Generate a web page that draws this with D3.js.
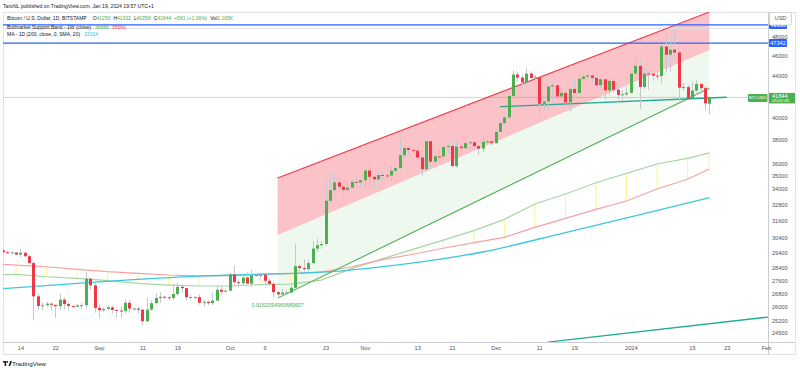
<!DOCTYPE html>
<html><head><meta charset="utf-8">
<script src="https://cdn.jsdelivr.net/npm/d3@7"></script>
<style>
body{margin:0;background:#fff;}
svg{display:block;font-family:"Liberation Sans",Arial,sans-serif;}
</style>
</head><body>
<svg id="c" width="800" height="370"></svg>
<script>
// ---------------- DATA ----------------
const firstDay = "2023-08-10"; // daily candles, consecutive days
const openP = [
29560,29430,29400,29420,29280,29400,29170,28720,26630,26050,26100,26190,26120,26040,26430,26160,26050,26010,26090,26100,27720,27300,
25940,25800,25870,25970,25820,25780,25750,26240,25900,25900,25830,25160,25840,26220,26530,26600,26570,26530,26770,27210,27130,26570,26580,26580,26250,26300,26220,26370,27030,26910,
26970,27990,27500,27430,27790,27410,27930,27950,27970,27590,27390,26880,26750,26860,26860,27150,28520,28400,28330,28720,29680,29910,29990,33090,33900,34500,34160,33910,34090,34540,34490,
34670,35440,34940,34730,35080,35050,35040,35420,35640,36690,37310,37140,37070,36500,35550,37880,36160,36600,36590,37390,37480,35800,37420,37290,37720,37790,37460,37250,37830,37860,
37720,38690,39470,39980,41980,44080,43770,43290,44170,43730,43790,41240,41450,42890,43020,41940,42280,41370,42660,42270,43650,43870,43990,43740,43020,43610,42520,43440,42580,42070,42140,
42280,44180,44950,42850,44180,44160,43970,43930,46970,46120,46630,46340,42780,42840,41730,42500,43150,42740,41250];
const highP = [
29700,29540,29470,29450,29670,29450,29220,28780,26800,26260,26290,26250,26130,26800,26560,26300,26100,26170,26240,28140,27760,27570,
26130,25970,26110,26090,25870,26030,26440,26430,25940,26000,25880,26550,26380,26820,26890,26680,26620,27410,27490,27380,27160,26740,26640,26740,26430,26390,26840,27300,27240,27090,
28060,28580,27680,27840,28120,28290,28000,28100,27990,27740,27480,26940,27100,26980,27290,30000,28610,28980,28930,30200,30370,30200,34770,35200,35130,34820,34230,34470,34730,34870,34720,
35560,35970,34940,35270,35380,35270,35880,35980,37950,37520,37410,37230,37420,36750,37980,37930,36850,36860,37530,37760,37860,37880,37650,38430,37900,37830,37580,38400,38400,38170,
38990,39700,40200,42410,44490,44290,44040,44700,44360,44040,43800,42100,43000,43400,43090,42700,42430,42760,43500,44290,44220,44390,44000,43950,43800,43610,43690,43800,43130,42600,42890,
44200,45900,45500,44760,44350,44220,44480,47200,47900,47690,48970,46500,43250,43070,43350,43570,43200,42900,41932];
const lowP = [
29330,29350,29360,29250,29100,29100,28700,25200,25800,25800,26000,25800,25350,25800,25850,25770,25970,25980,25860,25900,27020,25660,
25330,25710,25800,25600,25370,25380,25620,25650,25810,25600,24900,25130,25760,26130,26220,26480,26400,26390,26680,26850,26370,26500,26500,26130,26000,26100,26120,26340,26720,26890,
26950,27330,27170,27260,27380,27190,27860,27700,27300,27290,26560,26560,26690,26810,26820,27130,28090,28170,28170,28620,29480,29660,29880,32880,33730,33740,33400,33880,34050,34060,34070,
34100,34340,34110,34580,34570,34760,34560,35130,35560,36350,36730,36760,36370,34970,35370,35560,35920,36220,36390,36750,35720,35630,36900,37270,37620,37150,36700,36900,37600,37510,
37630,38650,39300,39980,41420,43400,42820,43080,43590,43570,40200,40670,40600,41420,41680,41690,41260,40530,41800,42220,43330,43430,43300,42770,42730,41640,42110,42330,41300,41540,41970,
42200,44180,40750,42640,42580,43420,43580,43200,44300,44350,45600,41500,42450,41720,41730,42050,42200,40650,40258];
const closeP = [
29430,29400,29420,29280,29400,29170,28720,26630,26050,26100,26190,26120,26040,26430,26160,26050,26010,26090,26100,27720,27300,25940,
25800,25870,25970,25820,25780,25750,26240,25900,25900,25830,25160,25840,26220,26530,26600,26570,26530,26770,27210,27130,26570,26580,26580,26250,26300,26220,26370,27030,26910,26970,
27990,27500,27430,27790,27410,27930,27950,27970,27590,27390,26880,26750,26860,26860,27150,28520,28400,28330,28720,29680,29910,29990,33090,33900,34500,34160,33910,34090,34540,34490,34670,
35440,34940,34730,35080,35050,35040,35420,35640,36690,37310,37140,37070,36500,35550,37880,36160,36600,36590,37390,37480,35800,37420,37290,37720,37790,37460,37250,37830,37860,37720,
38690,39470,39980,41980,44080,43770,43290,44170,43730,43790,41240,41450,42890,43020,41940,42280,41370,42660,42270,43650,43870,43990,43740,43020,43610,42520,43440,42580,42070,42140,42280,
44180,44950,42850,44180,44160,43970,43930,46970,46120,46630,46340,42780,42840,41730,42500,43150,42740,41280,41844];

// Bull market support band (weekly)
const bandDates = ["2023-08-06","2023-08-13","2023-08-20","2023-08-27","2023-09-03","2023-09-10","2023-09-17","2023-09-24","2023-10-01","2023-10-08","2023-10-15","2023-10-22","2023-10-29","2023-11-05","2023-11-12","2023-11-19","2023-11-26","2023-12-03","2023-12-10","2023-12-17","2023-12-24","2023-12-31","2024-01-07","2024-01-14","2024-01-19"];
const sma20w = [27960,27990,27840,27740,27590,27420,27320,27260,27260,27350,27380,27630,28360,28990,29630,30260,30920,31720,32840,33600,34470,35210,35970,36430,36886];
const ema21w = [28680,28590,28480,28310,28160,28060,27950,27900,27910,28010,28040,28140,28480,28940,29300,29700,30090,30450,31150,31790,32450,33070,33980,34740,35560];

// MA 200 (daily), sampled
const maDates = ["2023-08-08","2023-09-01","2023-09-24","2023-10-15","2023-10-25","2023-11-10","2023-11-28","2023-12-17","2024-01-01","2024-01-19"];
const ma200 = [27060,27520,27880,28050,28180,28650,29450,30780,31900,33324];

// Drawings
const channelDates = ["2023-10-12","2024-01-19"];
const channelTop = [34840,50800];
const channelMid = [30610,46600];
const channelBot = [26520,42720];
const supportDates = ["2023-12-02","2024-01-23"];
const supportPrices = [40970,41860];
const rayDates = ["2023-12-13","2024-02-02"];
const rayPrices = [24000,25420];
const hLevels = [49330,47342];
const lastPrice = 41844;
const fibText = "0.9162054960689607";

// Legend values
const ohlcKeys = ["O","H","L","C"];
const ohlcVals = ["41250","41932","40258","41844"];
const bandVals = ["36886","35560"];

// Axes
const priceTicks = [48000,46000,44000,42000,40000,38000,36000,35000,34000,32800,31600,30400,29400,28400,27600,26800,26000,25200,24500];
const timeTickDates = ["2023-08-14","2023-08-22","2023-09-01","2023-09-11","2023-09-19","2023-10-01","2023-10-09","2023-10-23","2023-11-01","2023-11-13","2023-11-21","2023-12-01","2023-12-11","2023-12-19","2024-01-01","2024-01-15","2024-01-23","2024-02-01"];
const timeTickLabels = ["14","22","Sep","11","19","Oct","9","23","Nov","13","21","Dec","11","19","2024","15","23","Feb"];

// ---------------- DRAW ----------------
const P = d3.utcParse("%Y-%m-%d");
const svg = d3.select("#c");
const x = d3.scaleUtc().domain([P("2023-08-14"), P("2024-02-01")]).range([20.4, 766]);
const y = d3.scaleLog().domain([48000, 24500]).range([37, 333]);
const plotL = 3, plotR = 768, plotT = 12, plotB = 342;

const GREEN = "#4caf50", RED = "#f23645", BLUE = "#2962ff";

svg.append("rect").attr("width",800).attr("height",370).attr("fill","#fff");
svg.append("defs").append("clipPath").attr("id","plot")
  .append("rect").attr("x",plotL).attr("y",plotT).attr("width",plotR-plotL).attr("height",plotB-plotT);

// border & frame
svg.append("rect").attr("x",plotL+0.5).attr("y",plotT+0.5).attr("width",795-plotL).attr("height",354-plotT)
  .attr("fill","none").attr("stroke","#e0e3eb");
svg.append("line").attr("x1",plotL).attr("x2",795).attr("y1",plotB+0.5).attr("y2",plotB+0.5).attr("stroke","#c9ccd3");
svg.append("line").attr("x1",plotR+0.5).attr("x2",plotR+0.5).attr("y1",plotT).attr("y2",354).attr("stroke","#c9ccd3");

const g = svg.append("g").attr("clip-path","url(#plot)");

const cd = channelDates.map(P);
const ptsTop = cd.map((d,i)=>[x(d), y(channelTop[i])]);
const ptsMid = cd.map((d,i)=>[x(d), y(channelMid[i])]);
const ptsBot = cd.map((d,i)=>[x(d), y(channelBot[i])]);
// fills
g.append("path").attr("d", d3.line()(ptsTop.concat(ptsMid.slice().reverse()))+"Z")
  .attr("fill","#f23645").attr("fill-opacity",0.3);
g.append("path").attr("d", d3.line()(ptsMid.concat(ptsBot.slice().reverse()))+"Z")
  .attr("fill","#4caf50").attr("fill-opacity",0.09);

// faint line near top
g.append("line").attr("x1",plotL).attr("x2",plotR).attr("y1",28.5).attr("y2",28.5).attr("stroke","#dfe1e6");

// current price line
g.append("line").attr("x1",plotL).attr("x2",plotR).attr("y1",y(lastPrice)).attr("y2",y(lastPrice))
  .attr("stroke",GREEN).attr("stroke-opacity",0.35).attr("stroke-width",1);

// band
const bd = bandDates.map(P);
g.selectAll("line.band").data(bd).join("line").attr("class","band")
  .attr("x1",d=>x(d)).attr("x2",d=>x(d))
  .attr("y1",(d,i)=>y(sma20w[i])).attr("y2",(d,i)=>y(ema21w[i]))
  .attr("stroke","#fff59d").attr("stroke-width",1.2);
g.append("path").datum(bd).attr("fill","none").attr("stroke","#a5d6a7").attr("stroke-width",1.2)
  .attr("d", d3.line().x(d=>x(d)).y((d,i)=>y(sma20w[i])));
g.append("path").datum(bd).attr("fill","none").attr("stroke","#f7a2a2").attr("stroke-width",1.2)
  .attr("d", d3.line().x(d=>x(d)).y((d,i)=>y(ema21w[i])));

// MA200
const md = maDates.map(P);
g.append("path").datum(md).attr("fill","none").attr("stroke","#3cc8dc").attr("stroke-width",1.3)
  .attr("d", d3.line().curve(d3.curveMonotoneX).x(d=>x(d)).y((d,i)=>y(ma200[i])));

// channel lines
g.append("path").attr("d", d3.line()(ptsTop)).attr("stroke",RED).attr("stroke-width",1.1).attr("fill","none");
g.append("path").attr("d", d3.line()(ptsBot)).attr("stroke",GREEN).attr("stroke-width",1.1).attr("fill","none");

// support line and ray
const sd = supportDates.map(P);
g.append("line").attr("x1",x(sd[0])).attr("y1",y(supportPrices[0])).attr("x2",x(sd[1])).attr("y2",y(supportPrices[1]))
  .attr("stroke","#22ab94").attr("stroke-width",1.3);
const rd = rayDates.map(P);
g.append("line").attr("x1",x(rd[0])).attr("y1",y(rayPrices[0])).attr("x2",x(rd[1])).attr("y2",y(rayPrices[1]))
  .attr("stroke","#22ab94").attr("stroke-width",1.3);

// horizontal levels
g.selectAll("line.lvl").data(hLevels).join("line").attr("class","lvl")
  .attr("x1",plotL).attr("x2",plotR).attr("y1",d=>y(d)).attr("y2",d=>y(d))
  .attr("stroke",BLUE).attr("stroke-width",1.3);

// candles
const candles = openP.map((o,i)=>({d: d3.utcDay.offset(P(firstDay), i), o, h: highP[i], l: lowP[i], c: closeP[i]}));
const bw = 3;
const cg = g.append("g");
cg.selectAll("line.wick").data(candles).join("line").attr("class","wick")
  .attr("x1",d=>Math.round(x(d.d))+0.5).attr("x2",d=>Math.round(x(d.d))+0.5)
  .attr("y1",d=>y(d.h)).attr("y2",d=>y(d.l))
  .attr("stroke","#c5c8d0").attr("stroke-width",1);
cg.selectAll("rect.body").data(candles).join("rect").attr("class","body")
  .attr("x",d=>Math.round(x(d.d))-1).attr("width",bw)
  .attr("y",d=>Math.min(y(d.o),y(d.c)))
  .attr("height",d=>Math.max(1, Math.abs(y(d.o)-y(d.c))))
  .attr("fill",d=>d.c>=d.o?GREEN:RED);

// fib text
g.append("text").attr("x",x(cd[0])).attr("y",y(26100)).attr("text-anchor","middle").attr("dominant-baseline","middle")
  .attr("font-size",5.4).attr("fill",GREEN).text(fibText);

// BTCUSD label
svg.append("rect").attr("x",748).attr("y",94).attr("width",19.5).attr("height",8).attr("fill",GREEN).attr("rx",1);
svg.append("text").attr("x",757.7).attr("y",98.3).attr("text-anchor","middle").attr("dominant-baseline","middle")
  .attr("font-size",4.4).attr("fill","#fff").text("BTCUSD");

// price axis
const ya = svg.append("g").attr("transform",`translate(${plotR},0)`)
  .call(d3.axisRight(y).tickValues(priceTicks).tickFormat(d3.format("d")).tickSize(0).tickPadding(4));
ya.select(".domain").remove();
ya.selectAll("text").attr("font-size",5.6).attr("fill","#50535e").attr("font-family","Liberation Sans, Arial, sans-serif");

// time axis
const xa = svg.append("g").attr("transform",`translate(0,${plotB})`)
  .call(d3.axisBottom(x).tickValues(timeTickDates.map(P)).tickFormat((d,i)=>timeTickLabels[i]).tickSize(0).tickPadding(4));
xa.select(".domain").remove();
xa.selectAll("text").attr("font-size",5.6).attr("fill","#50535e").attr("font-family","Liberation Sans, Arial, sans-serif");

// axis labels for levels
function axisLabel(val, fill, txt, h){
  const yy = y(val);
  svg.append("rect").attr("x",769).attr("y",yy-h/2).attr("width",18).attr("height",h).attr("fill",fill).attr("rx",1);
  svg.append("text").attr("x",778).attr("y",yy+0.3).attr("text-anchor","middle").attr("dominant-baseline","middle")
    .attr("font-size",5.6).attr("fill","#fff").text(txt);
}
axisLabel(hLevels[0], BLUE, String(hLevels[0]), 8);
axisLabel(hLevels[1], BLUE, String(hLevels[1]), 8);
// USD box
svg.append("rect").attr("x",769.5).attr("y",12.5).attr("width",22).attr("height",12.5).attr("fill","#fff").attr("stroke","#d1d4dc").attr("rx",1.5);
svg.append("text").attr("x",780.5).attr("y",19).attr("text-anchor","middle").attr("dominant-baseline","middle")
  .attr("font-size",5.6).attr("fill","#50535e").text("USD");
// last price label
const ly = y(lastPrice);
svg.append("rect").attr("x",769).attr("y",ly-4.5).attr("width",26).attr("height",10.5).attr("fill",GREEN);
svg.append("text").attr("x",772).attr("y",ly-0.8).attr("dominant-baseline","middle").attr("font-size",5.6).attr("fill","#fff").text(String(lastPrice));
svg.append("text").attr("x",772).attr("y",ly+3.6).attr("dominant-baseline","middle").attr("font-size",4.4).attr("fill","#fff").text("05:02:45");

// header
const FS = 5.0;
const hdr = svg.append("g").attr("font-size",FS).attr("fill","#131722");
hdr.append("text").attr("x",3).attr("y",8).attr("font-size",5.1).text("TaroNL published on TradingView.com, Jan 19, 2024 19:57 UTC+1");
const l2 = hdr.append("text").attr("x",7).attr("y",19.8);
l2.append("tspan").text("Bitcoin / U.S. Dollar, 1D, BITSTAMP");
ohlcKeys.forEach((k,i)=>{ l2.append("tspan").attr("dx", i===0?6:3).text(k); l2.append("tspan").attr("fill",GREEN).text(ohlcVals[i]); });
l2.append("tspan").attr("dx",3).attr("fill",GREEN).text("+561 (+1.36%)");
l2.append("tspan").attr("dx",3).text("Vol");
l2.append("tspan").attr("fill",GREEN).text("2.165K");
const l3 = hdr.append("text").attr("x",7).attr("y",28.6);
l3.append("tspan").text("Bullmarket Support Band - 1W (close)");
l3.append("tspan").attr("dx",4).attr("fill",GREEN).text(bandVals[0]);
l3.append("tspan").attr("dx",3).attr("fill",RED).text(bandVals[1]);
const l4 = hdr.append("text").attr("x",7).attr("y",35.6);
l4.append("tspan").text("MA - 1D (200, close, 0, SMA, 20)");
l4.append("tspan").attr("dx",4).attr("fill","#26c6da").text("33324");

// footer
const ft = svg.append("g").attr("transform","translate(3,361)");
ft.append("path").attr("d","M0,0 H3.2 V5 H1.6 V1.5 H0 Z").attr("fill","#131722");
ft.append("circle").attr("cx",4.3).attr("cy",0.9).attr("r",0.9).attr("fill","#131722");
ft.append("path").attr("d","M5.5,5 L7.3,0 H9 L7.2,5 Z").attr("fill","#131722");
svg.append("text").attr("x",12).attr("y",366).attr("font-size",6.2).attr("fill","#131722").text("TradingView");
</script>
</body></html>
